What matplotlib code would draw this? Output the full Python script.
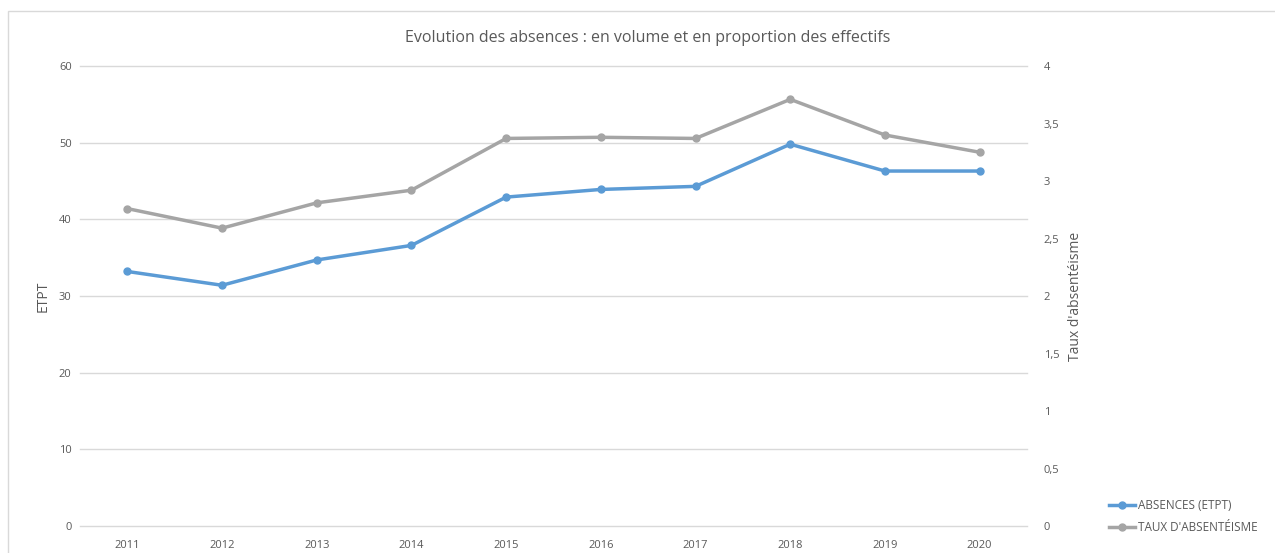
import matplotlib.pyplot as plt
from matplotlib.patches import Rectangle
from matplotlib.ticker import FuncFormatter

annees = ['2011', '2012', '2013', '2014', '2015', '2016', '2017', '2018', '2019', '2020']
absences = [33.2, 31.4, 34.7, 36.6, 42.9, 43.9, 44.3, 49.8, 46.3, 46.3]
taux = [2.76, 2.59, 2.81, 2.92, 3.37, 3.38, 3.37, 3.71, 3.40, 3.25]

bleu = '#5B9BD5'
gris = '#A5A5A5'
txt = '#595959'

plt.rcParams['font.family'] = ['Open Sans', 'DejaVu Sans']

fig = plt.figure(figsize=(12.75, 5.53), dpi=100)
fig.patches.append(Rectangle((8/1275, -0.01), 1.0, 1 - 11/553 + 0.01, transform=fig.transFigure,
                             fill=False, edgecolor='#D9D9D9', linewidth=1))

ax = fig.add_axes([80/1275, 1 - 526/553, 947/1275, 460/553])
ax2 = ax.twinx()

x = list(range(len(annees)))
l1, = ax.plot(x, absences, color=bleu, lw=2.5, marker='o', ms=5, label='ABSENCES (ETPT)', zorder=3)
l2, = ax2.plot(x, taux, color=gris, lw=2.5, marker='o', ms=5, label="TAUX D'ABSENTÉISME", zorder=3)

ax.set_xlim(-0.5, len(annees) - 0.5)
ax.set_ylim(0, 60)
ax2.set_ylim(0, 4)
ax.set_yticks(range(0, 61, 10))
ax2.set_yticks([0, 0.5, 1, 1.5, 2, 2.5, 3, 3.5, 4])
ax2.yaxis.set_major_formatter(FuncFormatter(lambda v, p: ('%g' % v).replace('.', ',')))
ax.set_xticks(x)
ax.set_xticklabels(annees)

ax.grid(axis='y', color='#D9D9D9', lw=1, clip_on=False)
ax.set_axisbelow(True)
for a in (ax, ax2):
    for s in a.spines.values():
        s.set_visible(False)
    a.tick_params(length=0, colors=txt, labelsize=8)
ax.tick_params(axis='y', pad=6)
ax2.tick_params(axis='y', pad=12)
ax.tick_params(axis='x', pad=10)

ax.set_ylabel('ETPT', color=txt, fontsize=10, labelpad=6)
ax2.set_ylabel("Taux d'absentéisme", color=txt, fontsize=10, labelpad=6)

fig.text(0.508, 1 - 38/553, 'Evolution des absences : en volume et en proportion des effectifs',
         ha='center', va='center', color=txt, fontsize=11.5)

fig.legend(handles=[l1, l2], loc='lower right', bbox_to_anchor=(0.995, 0.015), frameon=False,
           fontsize=8.5, labelcolor=txt, handlelength=2.2, handletextpad=0.3, labelspacing=0.8)

fig.savefig('out.png', dpi=100)
